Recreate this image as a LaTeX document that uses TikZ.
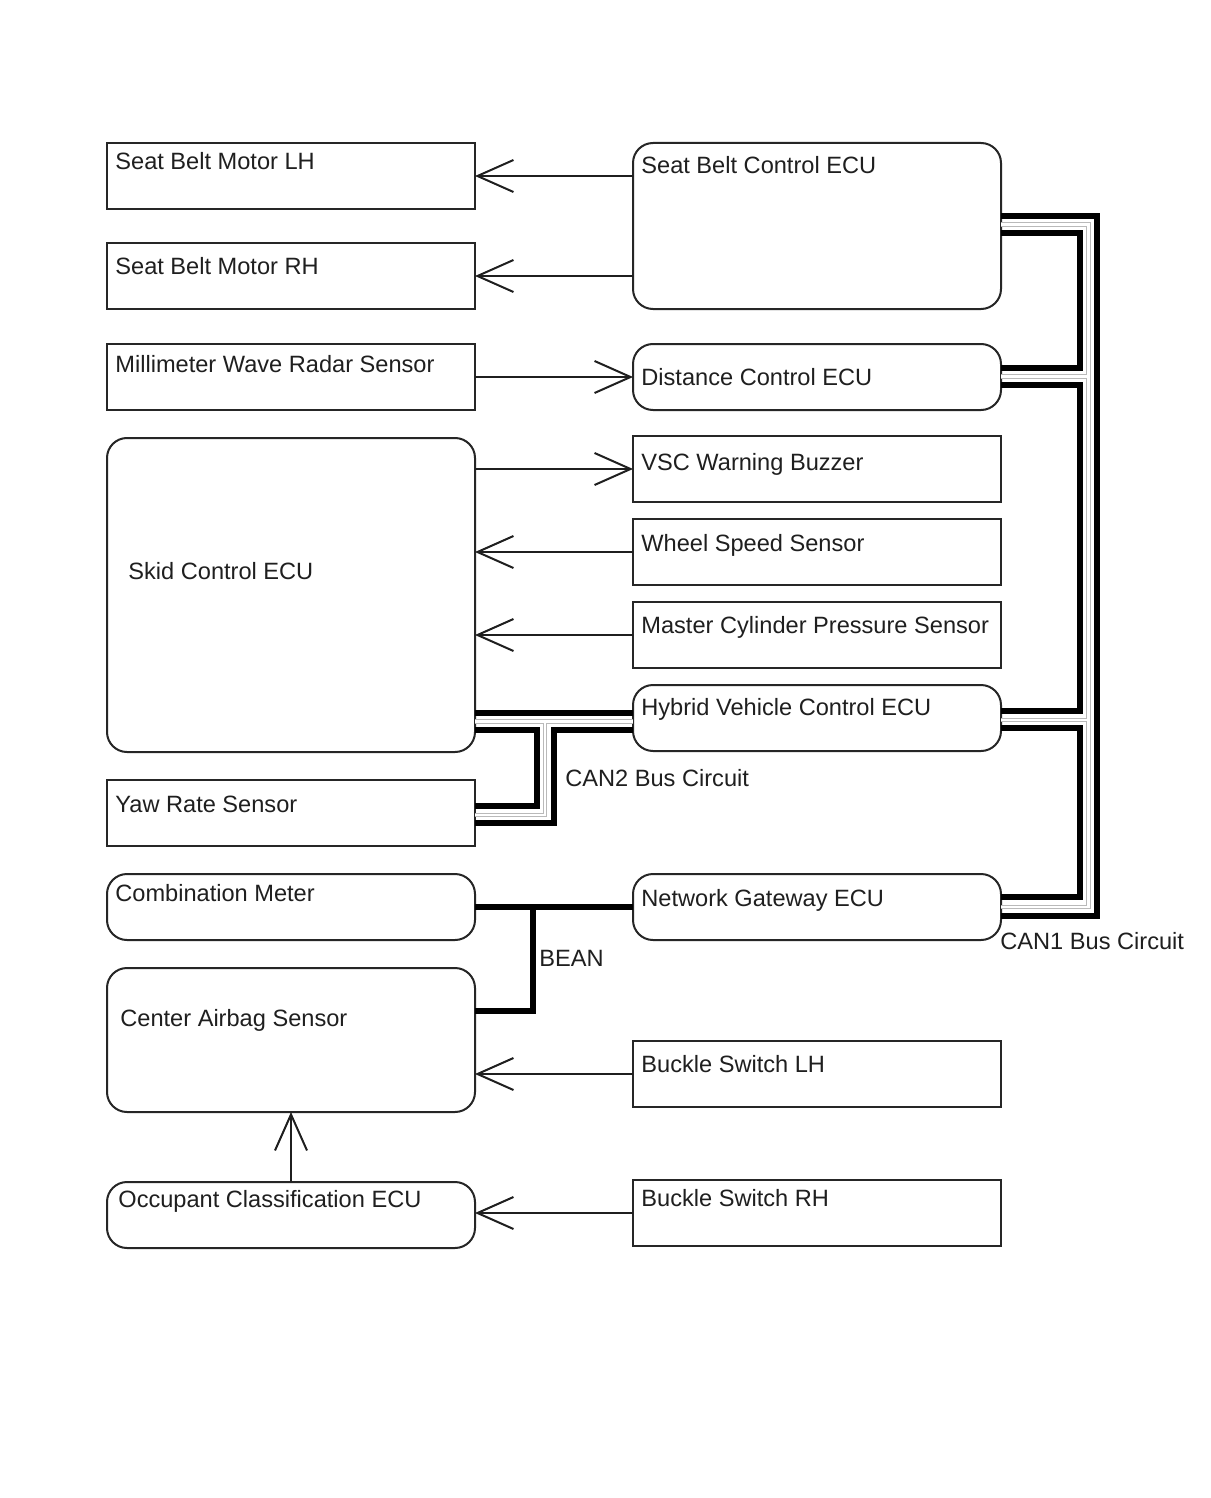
\documentclass[tikz,border=0pt]{standalone}
\usepackage{fontspec}
\setmainfont{Liberation Sans}
\usetikzlibrary{arrows.meta}
\begin{document}
\begin{tikzpicture}[x=0.5pt,y=-0.5pt,
  box/.style={draw=black!85, line width=1pt, minimum width=184pt, minimum height=33pt, inner sep=0pt, outer sep=0pt},
  rbox/.style={box, rounded corners=10pt},
  lbl/.style={anchor=base west, inner sep=0pt, font=\fontsize{11.8}{14}\selectfont, text=black!88},
  sig/.style={draw=black!88, line width=1pt, -{Straight Barb[length=18pt,width=16pt]}},
  bus/.style={line width=3pt, black, line join=miter},
  busg/.style={line width=2.3pt, gray!55, line join=miter},
  busw/.style={line width=1.1pt, white, line join=miter}]
\fill[white] (0,0) rectangle (1210,1498);
\useasboundingbox (0,0) rectangle (1210,1498);

% left column
\node[box] (sbm1) at (291,176) {};
\node[lbl] (tsbm1) at (115,170) {Seat Belt Motor LH};
\node[box] (sbm2) at (291,276) {};
\node[lbl] (tsbm2) at (115,274) {Seat Belt Motor RH};
\node[box] (radar) at (291,377) {};
\node[lbl] (tradar) at (115,372) {Millimeter Wave Radar Sensor};
\node[rbox, minimum height=157pt] (skid) at (291,595) {};
\node[lbl] (tskid) at (128,579) {Skid Control ECU};
\node[box] (yaw) at (291,813) {};
\node[lbl] (tyaw) at (115,812) {Yaw Rate Sensor};
\node[rbox] (comb) at (291,907) {};
\node[lbl] (tcomb) at (115,901) {Combination Meter};
\node[rbox, minimum height=72pt] (cas) at (291,1040) {};
\node[lbl] (tcas) at (120,1026) {Center Airbag Sensor};
\node[rbox] (occ) at (291,1215) {};
\node[lbl] (tocc) at (118,1207) {Occupant Classification ECU};

% right column
\node[rbox, minimum height=83pt] (sbc) at (817,226) {};
\node[lbl] (tsbc) at (641,174) {Seat Belt Control ECU};
\node[rbox] (dist) at (817,377) {};
\node[lbl] (tdist) at (641,385) {Distance Control ECU};
\node[box] (vsc) at (817,469) {};
\node[lbl] (tvsc) at (641,470) {VSC Warning Buzzer};
\node[box] (wheel) at (817,552) {};
\node[lbl] (twheel) at (641,551) {Wheel Speed Sensor};
\node[box] (master) at (817,635) {};
\node[lbl] (tmaster) at (641,633) {Master Cylinder Pressure Sensor};
\node[rbox] (hv) at (817,718) {};
\node[lbl] (thv) at (641,715) {Hybrid Vehicle Control ECU};
\node[rbox] (gw) at (817,907) {};
\node[lbl] (tgw) at (641,906) {Network Gateway ECU};
\node[box] (blh) at (817,1074) {};
\node[lbl] (tblh) at (641,1072) {Buckle Switch LH};
\node[box] (brh) at (817,1213) {};
\node[lbl] (tbrh) at (641,1206) {Buckle Switch RH};

% bus labels
\node[lbl] (lcan2) at (565,786) {CAN2 Bus Circuit};
\node[lbl] (lbean) at (539,966) {BEAN};
\node[lbl] (lcan1) at (1000,949) {CAN1 Bus Circuit};

% signal arrows
\draw[sig] (sbc.west |- sbm1.east) -- (sbm1.east);
\draw[sig] (sbc.west |- sbm2.east) -- (sbm2.east);
\draw[sig] (radar.east) -- (dist.west);
\draw[sig] (skid.east |- vsc.west) -- (vsc.west);
\draw[sig] (wheel.west) -- (skid.east |- wheel.west);
\draw[sig] (master.west) -- (skid.east |- master.west);
\draw[sig] (blh.west) -- (cas.east |- blh.west);
\draw[sig] (brh.west) -- (occ.east |- brh.west);
\draw[sig] (occ.north) -- (cas.south);

% CAN1 bus
\draw[busg] (sbc.east |- 0,224.5) -| (1088.5,907) -- (gw.east |- 0,907);
\draw[busg] (dist.east |- 0,376.5) -- (1088.5,376.5);
\draw[busg] (hv.east |- 0,720) -- (1088.5,720);
\draw[busw] (sbc.east |- 0,224.5) -| (1088.5,907) -- (gw.east |- 0,907);
\draw[busw] (dist.east |- 0,376.5) -- (1088.5,376.5);
\draw[busw] (hv.east |- 0,720) -- (1088.5,720);
\draw[bus] (sbc.east |- 0,216) -| (1097,916) -- (gw.east |- 0,916);
\draw[bus] (sbc.east |- 0,233) -| (1080,368) -- (dist.east |- 0,368);
\draw[bus] (dist.east |- 0,385) -| (1080,711) -- (hv.east |- 0,711);
\draw[bus] (hv.east |- 0,728) -| (1080,897) -- (gw.east |- 0,897);

% CAN2 bus
\draw[busg] (skid.east |- 0,721.5) -- (hv.west |- 0,721.5);
\draw[busg] (545,721.5) |- (yaw.east |- 0,815);
\draw[busw] (skid.east |- 0,721.5) -- (hv.west |- 0,721.5);
\draw[busw] (545,721.5) |- (yaw.east |- 0,815);
\draw[bus] (skid.east |- 0,713) -- (hv.west |- 0,713);
\draw[bus] (skid.east |- 0,730) -| (537,806) -- (yaw.east |- 0,806);
\draw[bus] (hv.west |- 0,730) -| (554,823) -- (yaw.east |- 0,823);

% BEAN
\draw[bus] (comb.east) -- (gw.west);
\draw[bus] (533,904) |- (cas.east |- 0,1011);
\end{tikzpicture}
\end{document}
